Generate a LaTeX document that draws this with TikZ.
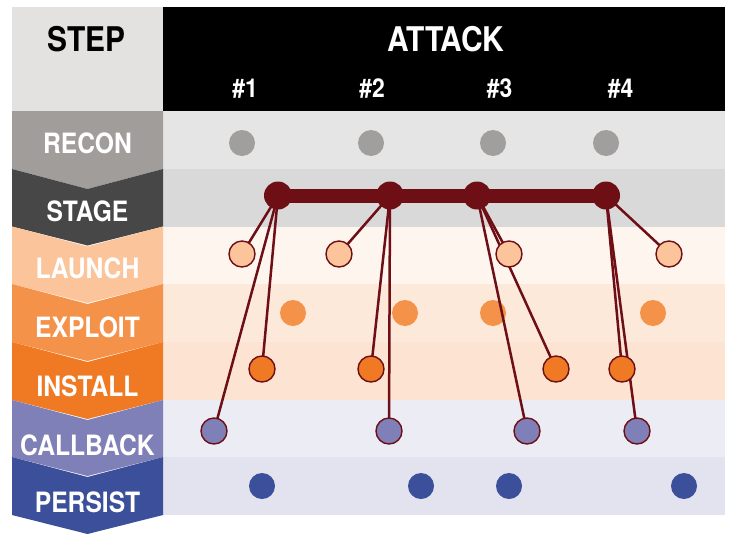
\documentclass[tikz,border=0pt]{standalone}
\usepackage{fontspec}
\newfontfamily\cond{TeX Gyre Heros}[FakeStretch=0.88]
\definecolor{stephd}{HTML}{E3E2E1}
\definecolor{creconL}{HTML}{A09D9B}
\definecolor{cstageL}{HTML}{474747}
\definecolor{claunchL}{HTML}{FBC49A}
\definecolor{cexploitL}{HTML}{F4924A}
\definecolor{cinstallL}{HTML}{F07A23}
\definecolor{ccallL}{HTML}{8080B8}
\definecolor{cpersistL}{HTML}{3B4F9B}
\definecolor{breconB}{HTML}{E6E5E5}
\definecolor{bstageB}{HTML}{DAD9DA}
\definecolor{blaunchB}{HTML}{FEF5EF}
\definecolor{bexploitB}{HTML}{FDE9DA}
\definecolor{binstallB}{HTML}{FDE4D2}
\definecolor{bcallB}{HTML}{ECECF5}
\definecolor{bpersistB}{HTML}{E3E3F0}
\definecolor{maroon}{HTML}{6E0E15}
\definecolor{recondot}{HTML}{A19F9E}
\pgfdeclarelayer{back}
\pgfdeclarelayer{mid}
\pgfsetlayers{back,mid,main}
\begin{document}
\begin{tikzpicture}[x=1pt,y=-1pt,
  dot/.style={circle,inner sep=0pt,minimum size=26pt},
  plaindot/.style={dot,fill=#1,draw=none},
  ringdot/.style={dot,fill=#1,draw=maroon,line width=1.4pt},
  stagedot/.style={dot,fill=maroon,minimum size=28pt},
  conn/.style={draw=maroon,line width=2.5pt},
  steplbl/.style={anchor=base,text=white,font=\cond\bfseries\fontsize{28}{28}\selectfont,inner sep=0pt},
  hdr/.style={anchor=base,inner sep=0pt,font=\cond\bfseries\fontsize{34}{34}\selectfont},
  numlbl/.style={anchor=base,inner sep=0pt,text=white,font=\cond\bfseries\fontsize{26}{26}\selectfont}]
\useasboundingbox (0,0) rectangle (733,533);
\begin{pgfonlayer}{back}
\fill[white] (0,0) rectangle (733,533);
% header
\fill[stephd] (12,7) rectangle (163,111);
\fill[black] (163,7) rectangle (725,111);
% row bands
\fill[breconB] (163,111) rectangle (725,169);
\fill[bstageB] (163,169) rectangle (725,226.5);
\fill[blaunchB] (163,226.5) rectangle (725,284);
\fill[bexploitB] (163,284) rectangle (725,342);
\fill[binstallB] (163,342) rectangle (725,400);
\fill[bcallB] (163,400) rectangle (725,457);
\fill[bpersistB] (163,457) rectangle (725,515);
% chevrons
\fill[creconL] (12,111) -- (163,111) -- (163,169) -- (87.5,189) -- (12,169) -- cycle;
\foreach \t/\b/\c in {169/226.5/cstageL,226.5/284/claunchL,284/342/cexploitL,342/400/cinstallL,400/457/ccallL,457/515/cpersistL}
  \fill[\c] (12,\t) -- (87.5,\t+20) -- (163,\t) -- (163,\b) -- (87.5,\b+19) -- (12,\b) -- cycle;
% plain dots
\node[plaindot=recondot] (r1) at (242,143) {};
\node[plaindot=recondot] (r2) at (371,143) {};
\node[plaindot=recondot] (r3) at (493,143) {};
\node[plaindot=recondot] (r4) at (606,143) {};
\node[plaindot=cexploitL] (e1) at (293,313) {};
\node[plaindot=cexploitL] (e2) at (405,313) {};
\node[plaindot=cexploitL] (e3) at (493,313) {};
\node[plaindot=cexploitL] (e4) at (653,313) {};
\node[plaindot=cpersistL] (p1) at (262,486) {};
\node[plaindot=cpersistL] (p2) at (421,486) {};
\node[plaindot=cpersistL] (p3) at (509,486) {};
\node[plaindot=cpersistL] (p4) at (684,486) {};
\end{pgfonlayer}
% texts
\node[hdr] (tstep) at (86.5,51) {STEP};
\node[hdr,text=white] (tattack) at (446,51) {ATTACK};
\node[numlbl] (n1) at (245,97) {\#1};
\node[numlbl] (n2) at (372,97) {\#2};
\node[numlbl] (n3) at (499.5,97) {\#3};
\node[numlbl] (n4) at (620.5,97) {\#4};
\node[steplbl] (lrecon) at (87.5,153) {RECON};
\node[steplbl] (lstage) at (87.5,221) {STAGE};
\node[steplbl] (llaunch) at (87.5,278) {LAUNCH};
\node[steplbl] (lexploit) at (87.5,337) {EXPLOIT};
\node[steplbl] (linstall) at (87.5,396) {INSTALL};
\node[steplbl] (lcall) at (87.5,455) {CALLBACK};
\node[steplbl] (lpersist) at (87.5,512) {PERSIST};
% stage dots
\node[stagedot] (s1) at (278,195.5) {};
\node[stagedot] (s2) at (390,195.5) {};
\node[stagedot] (s3) at (477,195.5) {};
\node[stagedot] (s4) at (606,195.5) {};
% outlined dots
\node[ringdot=claunchL] (a1) at (242,254) {};
\node[ringdot=claunchL] (a2) at (339,254) {};
\node[ringdot=claunchL] (a3) at (509,254) {};
\node[ringdot=claunchL] (a4) at (669,254) {};
\node[ringdot=cinstallL] (i1) at (262,369) {};
\node[ringdot=cinstallL] (i2) at (371,369) {};
\node[ringdot=cinstallL] (i3) at (556,369) {};
\node[ringdot=cinstallL] (i4) at (622,369) {};
\node[ringdot=ccallL] (c1) at (214,431) {};
\node[ringdot=ccallL] (c2) at (389,431) {};
\node[ringdot=ccallL] (c3) at (527,431) {};
\node[ringdot=ccallL] (c4) at (637,431) {};
\begin{pgfonlayer}{mid}
\draw[maroon,line width=14pt] (s1.center) -- (s4.center);
\foreach \k in {1,2,3,4}{
  \draw[conn] (s\k.center) -- (a\k.center);
  \draw[conn] (s\k.center) -- (i\k.center);
  \draw[conn] (s\k.center) -- (c\k.center);
}
\end{pgfonlayer}
\end{tikzpicture}
\end{document}
